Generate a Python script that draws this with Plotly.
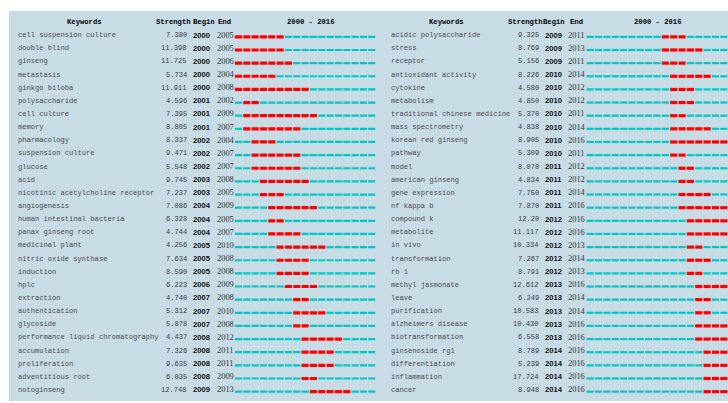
import plotly.graph_objects as go

# ---------------- data ----------------
keywords_left = ["cell suspension culture", "double blind", "ginseng", "metastasis", "ginkgo biloba",
                 "polysaccharide", "cell culture", "memory", "pharmacology", "suspension culture",
                 "glucose", "acid", "nicotinic acetylcholine receptor", "angiogenesis",
                 "human intestinal bacteria", "panax ginseng root", "medicinal plant",
                 "nitric oxide synthase", "induction", "hplc", "extraction", "authentication",
                 "glycoside", "performance liquid chromatography", "accumulation", "proliferation",
                 "adventitious root", "notoginseng"]
strength_left = ["7.380", "11.398", "11.725", "5.734", "11.911", "4.596", "7.395", "8.805", "8.337",
                 "9.471", "5.548", "9.745", "7.237", "7.086", "6.328", "4.744", "4.256", "7.634",
                 "8.590", "6.223", "4.740", "5.312", "5.878", "4.437", "7.326", "9.635", "6.035",
                 "12.748"]
begin_left = [2000, 2000, 2000, 2000, 2000, 2001, 2001, 2001, 2002, 2002, 2002, 2003, 2003, 2004,
              2004, 2004, 2005, 2005, 2005, 2006, 2007, 2007, 2007, 2008, 2008, 2008, 2008, 2009]
end_left = [2005, 2005, 2006, 2004, 2008, 2002, 2009, 2007, 2004, 2007, 2007, 2008, 2005, 2009,
            2005, 2007, 2010, 2008, 2008, 2009, 2008, 2010, 2008, 2012, 2011, 2011, 2009, 2013]

keywords_right = ["acidic polysaccharide", "stress", "receptor", "antioxidant activity", "cytokine",
                  "metabolism", "traditional chinese medicine", "mass spectrometry",
                  "korean red ginseng", "pathway", "model", "american ginseng", "gene expression",
                  "nf kappa b", "compound k", "metabolite", "in vivo", "transformation", "rb 1",
                  "methyl jasmonate", "leave", "purification", "alzheimers disease",
                  "biotransformation", "ginsenoside rg1", "differentiation", "inflammation", "cancer"]
strength_right = ["9.325", "8.769", "5.156", "8.226", "4.580", "4.850", "5.370", "4.838", "8.905",
                  "5.309", "8.070", "4.834", "7.750", "7.870", "12.20", "11.117", "10.334", "7.267",
                  "8.791", "12.612", "6.249", "10.583", "10.430", "6.558", "8.789", "5.239",
                  "17.724", "8.948"]
begin_right = [2009, 2009, 2009, 2010, 2010, 2010, 2010, 2010, 2010, 2010, 2011, 2011, 2011, 2011,
               2012, 2012, 2012, 2012, 2012, 2013, 2013, 2013, 2013, 2013, 2014, 2014, 2014, 2014]
end_right = [2011, 2013, 2011, 2014, 2012, 2012, 2011, 2014, 2016, 2011, 2012, 2012, 2014, 2016,
             2016, 2016, 2013, 2014, 2013, 2016, 2014, 2014, 2016, 2016, 2016, 2016, 2016, 2016]

header_labels = ["Keywords", "Strength", "Begin", "End", "2000 - 2016"]
first_year, last_year = 2000, 2016

# ---------------- layout constants ----------------
W, H = 728, 403
BG = "#c8dce6"
CYAN = "#00c6c6"
RED = "#ff0000"
ROW0_PX, ROW_H = 22.0, 13.14   # header row centre, row pitch (px)
MONO = "Liberation Mono"

panels = [
    dict(kw=keywords_left, st=strength_left, b=begin_left, e=end_left, xa="x",
         dom=(234.3, 375.9), kw_x=16, st_r=189, b_x=190.5, e_x=214.5,
         h_kw=84, h_st=154, h_b=191, h_e=216, h_tl=310),
    dict(kw=keywords_right, st=strength_right, b=begin_right, e=end_right, xa="x2",
         dom=(586.0, 728.0), kw_x=389, st_r=541, b_x=542.5, e_x=566,
         h_kw=446, h_st=506, h_b=541, h_e=568, h_tl=657),
]

fig = go.Figure()
annotations = []

def px(x):
    return x / W

n_years = last_year - first_year + 1
gap = 0.07
for p in panels:
    cx, cy, rx, ry = [], [], [], []
    for i, (b, e) in enumerate(zip(p["b"], p["e"])):
        r = i + 1 + 0.13
        for yr in range(first_year, last_year + 1):
            k = yr - first_year
            seg_x = [k + gap, k + 1 - gap, None]
            seg_y = [r, r, None]
            if b <= yr <= e:
                rx += seg_x; ry += seg_y
            else:
                cx += seg_x; cy += seg_y
    fig.add_trace(go.Scatter(x=cx, y=cy, xaxis=p["xa"], yaxis="y", mode="lines",
                             line=dict(color=CYAN, width=2.2), hoverinfo="skip", showlegend=False))
    fig.add_trace(go.Scatter(x=rx, y=ry, xaxis=p["xa"], yaxis="y", mode="lines",
                             line=dict(color=RED, width=3.2), hoverinfo="skip", showlegend=False))

    # header
    hfont = dict(family=MONO, size=7.2, color="#000000")
    for text, x, anc in [(header_labels[0], p["h_kw"], "center"),
                         (header_labels[1], p["h_st"], "left"),
                         (header_labels[2], p["h_b"], "left"),
                         (header_labels[3], p["h_e"], "left"),
                         (header_labels[4], p["h_tl"], "center")]:
        annotations.append(dict(text="<b>%s</b>" % text, x=px(x), xref="paper", y=0, yref="y",
                                xanchor=anc, yanchor="middle", showarrow=False, font=hfont))
    for i in range(len(p["kw"])):
        r = i + 1
        annotations.append(dict(text=p["kw"][i], x=px(p["kw_x"]), xref="paper", y=r, yref="y",
                                xanchor="left", yanchor="middle", showarrow=False,
                                font=dict(family=MONO, size=7.1, color="#4a4a4a")))
        annotations.append(dict(text=p["st"][i], x=px(p["st_r"]), xref="paper", y=r, yref="y",
                                xanchor="right", yanchor="middle", showarrow=False,
                                font=dict(family=MONO, size=7.1, color="#3a3a3a")))
        annotations.append(dict(text="<b>%d</b>" % p["b"][i], x=px(p["b_x"]), xref="paper", y=r,
                                yref="y", xanchor="left", yanchor="middle", showarrow=False,
                                font=dict(family="Liberation Sans", size=7.6, color="#111111")))
        annotations.append(dict(text="%d" % p["e"][i], x=px(p["e_x"]), xref="paper", y=r,
                                yref="y", xanchor="left", yanchor="middle", showarrow=False,
                                font=dict(family="Liberation Serif", size=8.4, color="#333333")))

y_top = -ROW0_PX / ROW_H
y_bot = (H - ROW0_PX) / ROW_H

hidden = dict(showgrid=False, zeroline=False, showticklabels=False, ticks="", showline=False)
fig.update_layout(
    width=W, height=H,
    margin=dict(l=0, r=0, t=0, b=0, pad=0),
    paper_bgcolor="white", plot_bgcolor="rgba(0,0,0,0)",
    xaxis=dict(domain=[panels[0]["dom"][0] / W, panels[0]["dom"][1] / W],
               range=[0, n_years], anchor="y", **hidden),
    xaxis2=dict(domain=[panels[1]["dom"][0] / W, panels[1]["dom"][1] / W],
                range=[0, n_years], anchor="y", **hidden),
    yaxis=dict(domain=[0, 1], range=[y_bot, y_top], anchor="x", **hidden),
    shapes=[dict(type="rect", xref="paper", yref="paper", x0=9 / W, x1=1, y0=1 - 401 / H,
                 y1=1 - 11 / H, fillcolor=BG, line=dict(width=0), layer="below")],
    annotations=annotations,
)

fig.write_html("out.html")
